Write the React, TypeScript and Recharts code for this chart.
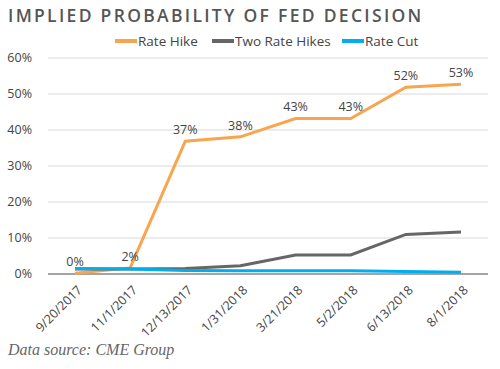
import React from 'react';
import { LineChart, Line, XAxis, YAxis, CartesianGrid, LabelList, ReferenceLine } from 'recharts';

const categories = ['9/20/2017', '11/1/2017', '12/13/2017', '1/31/2018', '3/21/2018', '5/2/2018', '6/13/2018', '8/1/2018'];
const rateHike = [0.2, 1.7, 36.9, 38.1, 43.2, 43.2, 51.9, 52.7];
const rateHikeLabels = ['0%', '2%', '37%', '38%', '43%', '43%', '52%', '53%'];
const twoRateHikes = [1.4, 1.4, 1.5, 2.3, 5.3, 5.3, 11.0, 11.7];
const rateCut = [1.5, 1.4, 1.0, 0.9, 0.9, 0.9, 0.7, 0.5];
const yTicks = [0, 10, 20, 30, 40, 50, 60];

const data = categories.map((c, i) => ({
  date: c,
  hike: rateHike[i],
  hikeLabel: rateHikeLabels[i],
  two: twoRateHikes[i],
  cut: rateCut[i],
}));

const FONT = "'Open Sans', 'Noto Sans', sans-serif";

const XTick = (props: any) => {
  const { x, y, payload } = props;
  return (
    <g transform={`translate(${x + 5},${y + 6})`}>
      <text transform="rotate(-45)" textAnchor="end" fontSize={12.5} fill="#444" fontFamily={FONT} dy={4}>
        {payload.value}
      </text>
    </g>
  );
};

const legendItems = [
  { name: 'Rate Hike', color: '#f9a54e', left: 115 },
  { name: 'Two Rate Hikes', color: '#666666', left: 212 },
  { name: 'Rate Cut', color: '#00aeef', left: 342 },
];

export default function App() {
  return (
    <div style={{ position: 'absolute', left: 0, top: 0, width: 500, height: 369, background: '#fff' }}>
      <div style={{ position: 'absolute', left: 8, top: 3, fontFamily: FONT, fontWeight: 600, fontSize: 17.5, letterSpacing: 2.3, color: '#555', whiteSpace: 'nowrap' }}>
        IMPLIED PROBABILITY OF FED DECISION
      </div>
      {legendItems.map((it) => (
        <div key={it.name} style={{ position: 'absolute', left: it.left, top: 32, display: 'flex', alignItems: 'center', fontFamily: FONT, fontSize: 13.5, color: '#444', whiteSpace: 'nowrap' }}>
          <span style={{ display: 'inline-block', width: 22, height: 4, background: it.color, marginRight: 1 }} />
          <span>{it.name}</span>
        </div>
      ))}
      <div style={{ position: 'absolute', left: 0, top: 0 }}>
        <LineChart width={500} height={369} data={data} margin={{ top: 58, right: 12, bottom: 35, left: 0 }}>
          <CartesianGrid vertical={false} stroke="#d9d9d9" />
          <XAxis dataKey="date" tick={<XTick />} tickLine={false} axisLine={false} height={60} interval={0} padding={{ left: 27, right: 27 }} />
          <YAxis
            domain={[0, 60]}
            ticks={yTicks}
            width={48}
            tickFormatter={(v: number) => `${v}%`}
            tick={{ fontSize: 12.5, fill: '#444', fontFamily: FONT }}
            axisLine={false}
            tickLine={false}
            tickMargin={10}
          />
          <ReferenceLine y={0} stroke="#8c8c8c" strokeWidth={1.5} />
          <Line dataKey="hike" stroke="#f9a54e" strokeWidth={3} dot={false} isAnimationActive={false}>
            <LabelList dataKey="hikeLabel" position="top" offset={7} style={{ fontSize: 12.5, fill: '#444', fontFamily: FONT }} />
          </Line>
          <Line dataKey="two" stroke="#666666" strokeWidth={3} dot={false} isAnimationActive={false} />
          <Line dataKey="cut" stroke="#00aeef" strokeWidth={3} dot={false} isAnimationActive={false} />
        </LineChart>
      </div>
      <div style={{ position: 'absolute', left: 8, top: 341, fontFamily: "'Liberation Serif', serif", fontStyle: 'italic', fontSize: 16, color: '#666' }}>
        Data source: CME Group
      </div>
    </div>
  );
}
